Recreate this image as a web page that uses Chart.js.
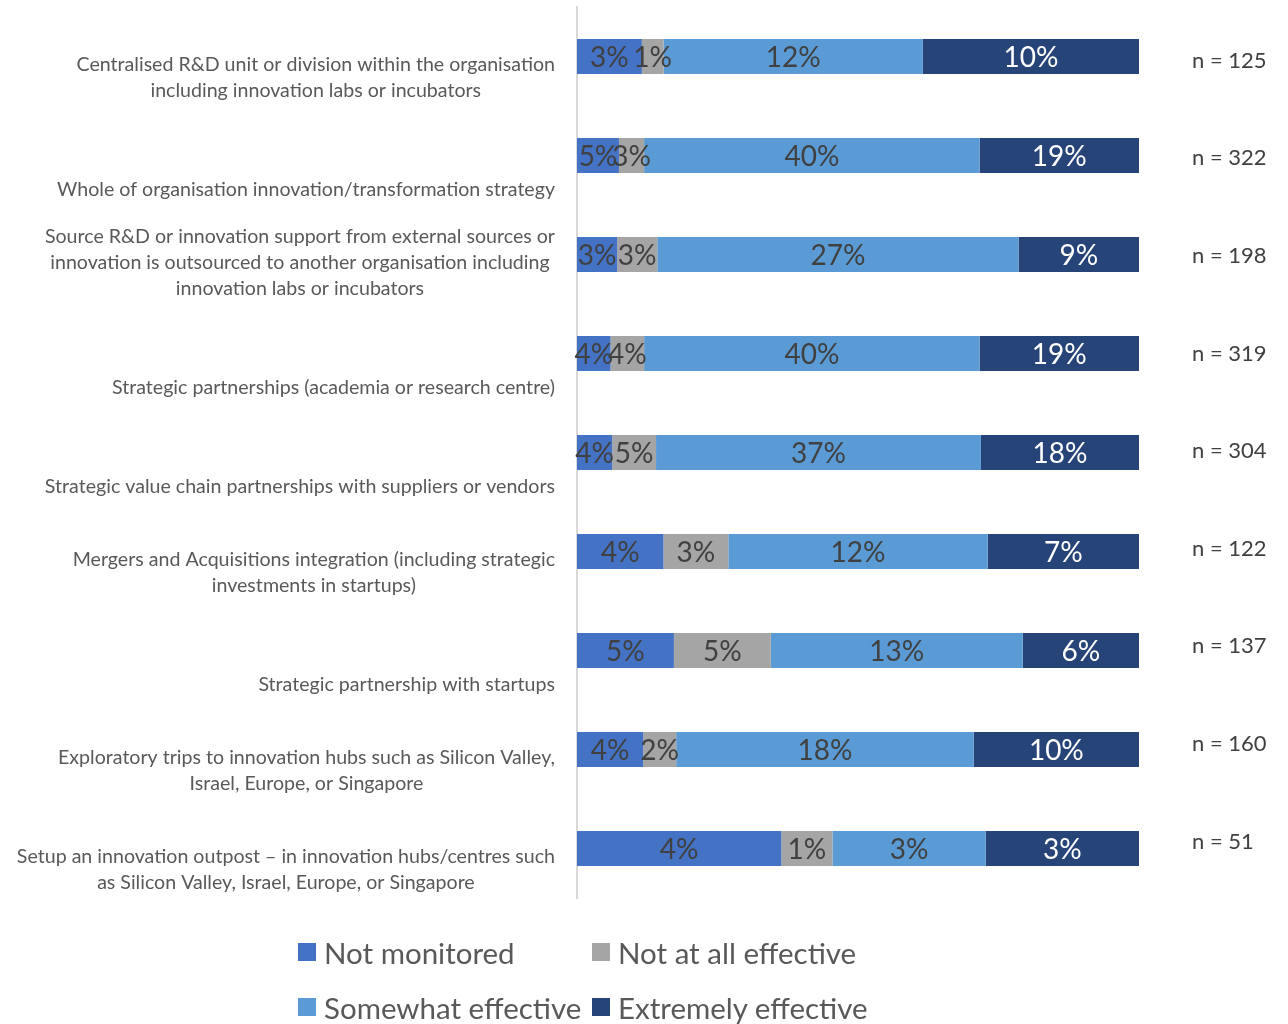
<!DOCTYPE html>
<html lang="en">
<head>
<meta charset="UTF-8">
<title>Innovation approaches and their effectiveness</title>
<script src="https://cdn.jsdelivr.net/npm/chart.js@4.4.1/dist/chart.umd.min.js"></script>
<style>
    html, body { margin: 0; padding: 0; background: #fff; }
    .chart-wrap { position: relative; width: 1288px; height: 1024px; }
    #effectChart { display: block; }
    .legend {
        position: absolute;
        left: 298px;
        top: 932px;
        display: grid;
        grid-template-columns: 294px auto;
        row-gap: 15px;
        font-family: Lato, "Open Sans", sans-serif;
        font-size: 29.5px;
        color: #595959;
    }
    .legend-item { display: flex; align-items: center; height: 40px; white-space: nowrap; }
    .legend-swatch { width: 18px; height: 18px; margin-right: 8px; }
</style>
</head>
<body>
<div class="chart-wrap">
    <canvas id="effectChart" width="1288" height="1024"></canvas>
    <div class="legend" id="legend"></div>
</div>
<script>
// Categories (each entry is a list of lines)
const categories = [
    ['Centralised R&D unit or division within the organisation', 'including innovation labs or incubators'],
    ['Whole of organisation innovation/transformation strategy'],
    ['Source R&D or innovation support from external sources or', 'innovation is outsourced to another organisation including', 'innovation labs or incubators'],
    ['Strategic partnerships (academia or research centre)'],
    ['Strategic value chain partnerships with suppliers or vendors'],
    ['Mergers and Acquisitions integration (including strategic', 'investments in startups)'],
    ['Strategic partnership with startups'],
    ['Exploratory trips to innovation hubs such as Silicon Valley,', 'Israel, Europe, or Singapore'],
    ['Setup an innovation outpost \u2013 in innovation hubs/centres such', 'as Silicon Valley, Israel, Europe, or Singapore']
];

const seriesNames = ['Not monitored', 'Not at all effective', 'Somewhat effective', 'Extremely effective'];

// Share of respondents (%)
const notMonitored       = [3, 5, 3, 4, 4, 4, 5, 4, 4];
const notAtAllEffective  = [1, 3, 3, 4, 5, 3, 5, 2, 1];
const somewhatEffective  = [12, 40, 27, 40, 37, 12, 13, 18, 3];
const extremelyEffective = [10, 19, 9, 19, 18, 7, 6, 10, 3];

// Sample size per row
const sampleSizes = [125, 322, 198, 319, 304, 122, 137, 160, 51];

const seriesColors = ['#4472C4', '#A5A5A5', '#5B9BD5', '#264478'];
const labelColors  = ['#404040', '#404040', '#404040', '#FFFFFF'];

const FONT = 'Lato, "Open Sans", sans-serif';

document.addEventListener('DOMContentLoaded', function() {
    if (typeof Chart === 'undefined') {
        console.error('Chart.js not loaded');
        return;
    }
    initChart();
    buildLegend();
});

// Every row is stretched to full width, so each segment is its share of the row total
function toRowShare(values, totals) {
    return values.map((v, i) => v / totals[i] * 100);
}

// Value labels centred in each segment
const segmentLabels = {
    id: 'segmentLabels',
    afterDatasetsDraw(chart) {
        const ctx = chart.ctx;
        ctx.save();
        ctx.font = '28px ' + FONT;
        ctx.textAlign = 'center';
        ctx.textBaseline = 'middle';
        chart.data.datasets.forEach((ds, di) => {
            const meta = chart.getDatasetMeta(di);
            ctx.fillStyle = labelColors[di];
            meta.data.forEach((bar, i) => {
                const cx = (bar.x + bar.base) / 2;
                ctx.fillText(ds.raw[i] + '%', cx, bar.y + 1);
            });
        });
        ctx.restore();
    }
};

// Category labels: block right-aligned to the axis, lines centred inside the block,
// last line sitting just below the bar
const categoryLabels = {
    id: 'categoryLabels',
    afterDraw(chart) {
        const ctx = chart.ctx;
        const yScale = chart.scales.y;
        const right = chart.chartArea.left - 22;
        const lineHeight = 26;
        ctx.save();
        ctx.font = '19.6px ' + FONT;
        ctx.fillStyle = '#595959';
        ctx.textAlign = 'center';
        ctx.textBaseline = 'middle';
        categories.forEach((lines, i) => {
            const yc = yScale.getPixelForValue(i);
            const blockW = Math.max(...lines.map(l => ctx.measureText(l).width));
            const cx = right - blockW / 2;
            lines.forEach((line, li) => {
                const y = yc + 34 - (lines.length - 1 - li) * lineHeight;
                ctx.fillText(line, cx, y);
            });
        });
        ctx.restore();
    }
};

// "n = ..." annotations to the right of each bar; they run on a slightly
// tighter spacing than the bars, so drift upwards a little row by row
const sampleLabels = {
    id: 'sampleLabels',
    afterDraw(chart) {
        const ctx = chart.ctx;
        const yScale = chart.scales.y;
        const x = chart.chartArea.right + 53;
        ctx.save();
        ctx.font = '22px ' + FONT;
        ctx.fillStyle = '#404040';
        ctx.textAlign = 'left';
        ctx.textBaseline = 'middle';
        sampleSizes.forEach((n, i) => {
            ctx.fillText('n = ' + n, x, yScale.getPixelForValue(i) + 4 - i * 1.35);
        });
        ctx.restore();
    }
};

function initChart() {
    const canvas = document.getElementById('effectChart');
    const rawSeries = [notMonitored, notAtAllEffective, somewhatEffective, extremelyEffective];
    const totals = notMonitored.map((_, i) => rawSeries.reduce((s, arr) => s + arr[i], 0));

    new Chart(canvas, {
        type: 'bar',
        data: {
            labels: categories.map(c => c.join(' ')),
            datasets: rawSeries.map((vals, di) => ({
                label: seriesNames[di],
                data: toRowShare(vals, totals),
                raw: vals,
                backgroundColor: seriesColors[di],
                borderWidth: 0,
                barPercentage: 0.354,
                categoryPercentage: 1
            }))
        },
        options: {
            indexAxis: 'y',
            responsive: false,
            animation: false,
            layout: {
                padding: { left: 0, right: 149, top: 7, bottom: 126 }
            },
            scales: {
                x: {
                    stacked: true,
                    min: 0,
                    max: 100,
                    display: false
                },
                y: {
                    stacked: true,
                    grid: { display: false },
                    border: { display: true, color: '#D9D9D9', width: 2 },
                    ticks: { display: false },
                    afterFit(scale) {
                        scale.width = 577;
                    }
                }
            },
            plugins: {
                legend: { display: false },
                tooltip: { enabled: false }
            }
        },
        plugins: [segmentLabels, categoryLabels, sampleLabels]
    });
}

// Two-by-two legend under the chart
function buildLegend() {
    const legend = document.getElementById('legend');
    seriesNames.forEach((name, i) => {
        const item = document.createElement('div');
        item.className = 'legend-item';
        const swatch = document.createElement('span');
        swatch.className = 'legend-swatch';
        swatch.style.background = seriesColors[i];
        const text = document.createElement('span');
        text.textContent = name;
        item.appendChild(swatch);
        item.appendChild(text);
        legend.appendChild(item);
    });
}
</script>
</body>
</html>
